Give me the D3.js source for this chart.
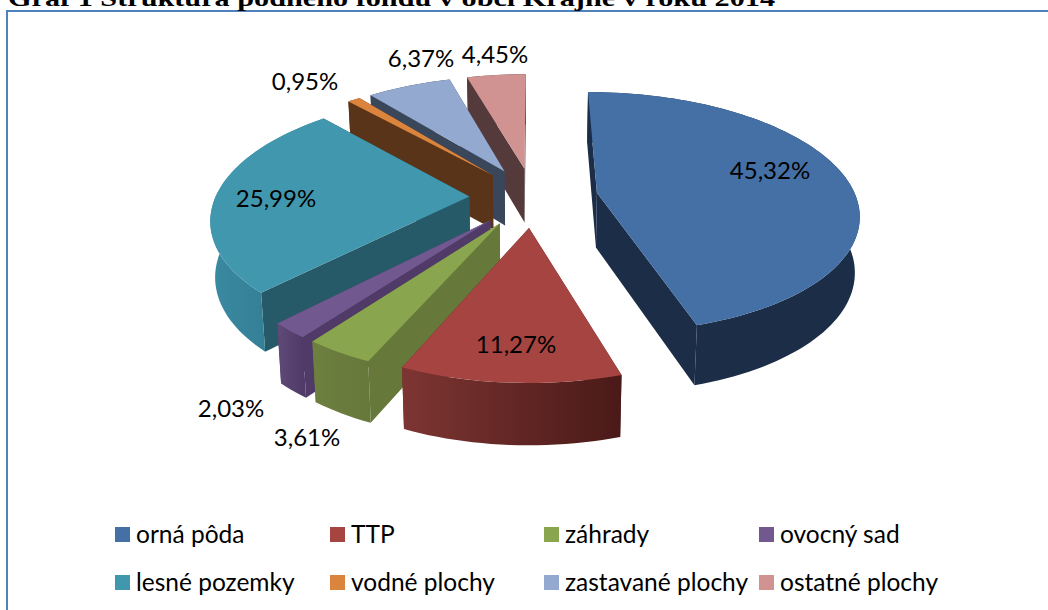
<!DOCTYPE html>
<html><head><meta charset="utf-8">
<script src="https://cdn.jsdelivr.net/npm/d3@7/dist/d3.min.js"></script>
<style>html,body{margin:0;padding:0;background:#fff;overflow:hidden}svg{display:block}</style>
</head><body><svg id="c" width="1048" height="610"></svg>
<script>
const categories = ["orná pôda","TTP","záhrady","ovocný sad","lesné pozemky","vodné plochy","zastavané plochy","ostatné plochy"];
const values = [45.32,11.27,3.61,2.03,25.99,0.95,6.37,4.45];
const labels = ["45,32%","11,27%","3,61%","2,03%","25,99%","0,95%","6,37%","4,45%"];
const topColors = ["#4470a5","#a64441","#89a54e","#71588f","#4197ae","#db843d","#93a9cf","#d19392"];
const radialColors = ["#1b2d47","#5e2422","#66783a","#503a68","#275a68","#5a3418","#3a465a","#543a3a"];
const arcLeft = ["#1b2d47","#7d3532","#6d8040","#5f4a78","#3a8aa2","#5a3418","#3a465a","#543a3a"];
const arcRight = ["#1b2d47","#4a1a18","#66783a","#503a68","#2f7487","#5a3418","#3a465a","#543a3a"];
const title = "Graf 1 Štruktúra pôdneho fondu v obci Krajné v roku 2014";

const labelPos = [[770,170],[516,344],[307,437],[231,408],[276,198],[305,81],[421,58],[495,54]];
const legendX = [115,330,544,759], legendY = [527,575];

const W=1048,H=610,cx=533,cy=197,R=259,E=65,A=0.457,B=0.00063,D=55,LEFT=0.98;
const svg=d3.select("#c");
svg.append("rect").attr("width",W).attr("height",H).attr("fill","#fff");
svg.append("rect").attr("x",7).attr("y",11).attr("width",W+20).attr("height",H+20)
  .attr("fill","#fff").attr("stroke","#4f81bd").attr("stroke-width",2);
svg.append("text").attr("x",8).attr("y",6).attr("font-family","Liberation Serif").attr("font-weight","bold")
  .attr("font-size",23).attr("textLength",767).attr("lengthAdjust","spacingAndGlyphs").attr("fill","#000").text(title);

// perspective projection of ground coordinates (u right, v to the back)
const sx=u=>u<0?u*LEFT:u;
const projTop=(u,v)=>{const s=1/(1+B*v);return [cx+sx(u)*s,cy-A*v*s];};
const projBot=(u,v)=>{const s=1/(1+B*v);return [cx+sx(u)*s*0.985,cy-A*v*s*0.98+D*Math.pow(s,0.8)];};
const toPath=d3.line();

const pie=d3.pie().sort(null)(values);
const slices=pie.map((p,i)=>{
  const mid=(p.startAngle+p.endAngle)/2;
  const ou=E*Math.sin(mid),ov=E*Math.cos(mid);
  const steps=Math.max(3,Math.ceil((p.endAngle-p.startAngle)/0.03));
  const arc=d3.range(steps+1).map(k=>{
    const a=p.startAngle+(p.endAngle-p.startAngle)*k/steps;
    return [ou+R*Math.sin(a),ov+R*Math.cos(a)];
  });
  return {i,apex:[ou,ov],arc,ov};
});
const quad=(a,b)=>[projTop(...a),projTop(...b),projBot(...b),projBot(...a)];
const defs=svg.append("defs");
const g=svg.append("g");
slices.slice().sort((a,b)=>b.ov-a.ov).forEach(s=>{
  const last=s.arc[s.arc.length-1];
  [s.arc[0],last].map(e=>({e,v:(s.apex[1]+e[1])/2})).sort((a,b)=>b.v-a.v).forEach(f=>{
    g.append("path").attr("d",toPath(quad(s.apex,f.e))+"Z").attr("fill",radialColors[s.i]);
  });
  const topArc=s.arc.map(p=>projTop(...p)), botArc=s.arc.map(p=>projBot(...p));
  const xs=topArc.map(p=>p[0]);
  const gid="arc"+s.i;
  const lg=defs.append("linearGradient").attr("id",gid).attr("gradientUnits","userSpaceOnUse")
    .attr("x1",d3.min(xs)).attr("x2",d3.max(xs)).attr("y1",0).attr("y2",0);
  lg.append("stop").attr("offset",0).attr("stop-color",arcLeft[s.i]);
  lg.append("stop").attr("offset",1).attr("stop-color",arcRight[s.i]);
  g.append("path").attr("d",toPath([...topArc,...botArc.reverse()])+"Z").attr("fill",`url(#${gid})`);
  g.append("path").attr("d",toPath([projTop(...s.apex),...topArc])+"Z").attr("fill",topColors[s.i]);
});

const font="Lato";
svg.selectAll(".lab").data(labels).join("text").attr("class","lab")
  .attr("x",(d,i)=>labelPos[i][0]).attr("y",(d,i)=>labelPos[i][1]).attr("dy","0.36em")
  .attr("text-anchor","middle").attr("font-family",font).attr("font-size",24).attr("fill","#000").text(d=>d);

categories.forEach((c,i)=>{
  const x=legendX[i%4],y=legendY[Math.floor(i/4)];
  svg.append("rect").attr("x",x).attr("y",y).attr("width",15).attr("height",15).attr("fill",topColors[i]);
  svg.append("text").attr("x",x+21).attr("y",y+7.5).attr("dy","0.36em").attr("font-family",font).attr("font-size",24.5).attr("fill","#000").text(c);
});
</script></body></html>
